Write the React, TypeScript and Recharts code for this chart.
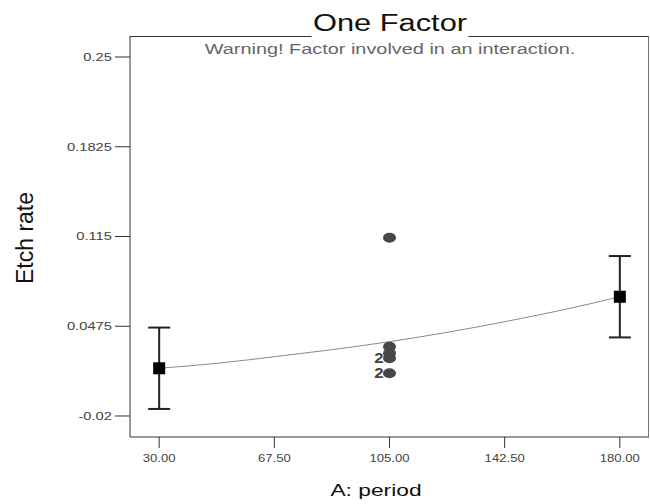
import React from "react";
import {
  ComposedChart,
  Scatter,
  Line,
  XAxis,
  YAxis,
  ErrorBar,
} from "recharts";

// factor levels and the fitted one-factor curve
const curveX = [30, 48.75, 67.5, 86.25, 105, 123.75, 142.5, 161.25, 180];
const curveY = [0.0159, 0.0196, 0.0246, 0.0299, 0.0359, 0.0429, 0.0509, 0.0597, 0.0697];

// predicted means at the ends, with their LSD bars
const meanX = [30, 180];
const meanY = [0.0159, 0.0697];
const meanErr = [0.0306, 0.0306];

// design points at the centre (n = stacked replicates)
const pointX = [105, 105, 105, 105, 105];
const pointY = [0.114, 0.0321, 0.0271, 0.0234, 0.0121];
const pointN = [1, 1, 1, 2, 2];

const xTicks = [30, 67.5, 105, 142.5, 180];
const yTicks = [-0.02, 0.0475, 0.115, 0.1825, 0.25];

const curve = curveX.map((x, i) => ({ x, y: curveY[i] }));
const means = meanX.map((x, i) => ({ x, y: meanY[i], err: meanErr[i] }));
const points = pointX.map((x, i) => ({ x, y: pointY[i], n: pointN[i] }));

const FONT = "'Liberation Sans', Arial, sans-serif";
const STRETCH = 1.34;

const YTick = ({ x, y, payload }: any) => (
  <text
    transform={`translate(${x},${y}) scale(${STRETCH},1)`}
    textAnchor="end"
    dy="0.35em"
    fontSize={11}
    fontFamily={FONT}
    fill="#444"
  >
    {payload.value}
  </text>
);

const XTick = ({ x, y, payload }: any) => (
  <text
    transform={`translate(${x},${y}) scale(1.25,1)`}
    textAnchor="middle"
    dy="0.75em"
    fontSize={10.5}
    fontFamily={FONT}
    fill="#444"
  >
    {Number(payload.value).toFixed(2)}
  </text>
);

const MeanShape = (p: any) => (
  <rect x={p.cx - 6} y={p.cy - 6} width={12} height={12} fill="#000" />
);

const PointShape = (p: any) => (
  <g>
    <ellipse cx={p.cx} cy={p.cy} rx={6.5} ry={5} fill="#474747" />
    {p.payload.n > 1 && (
      <text
        transform={`translate(${p.cx - 6},${p.cy}) scale(1.2,1)`}
        dy="0.36em"
        textAnchor="end"
        fontSize={14}
        fontWeight="bold"
        fontFamily={FONT}
        fill="#444"
      >
        {p.payload.n}
      </text>
    )}
  </g>
);

const label = (extra: React.CSSProperties): React.CSSProperties => ({
  position: "absolute",
  fontFamily: FONT,
  whiteSpace: "nowrap",
  lineHeight: 1,
  ...extra,
});

export default function App() {
  return (
    <div style={{ position: "absolute", left: 0, top: 0, width: 650, height: 504, background: "#fff" }}>
      <ComposedChart
        width={650}
        height={504}
        margin={{ top: 36, right: 1, bottom: 27, left: 70 }}
      >
        <XAxis
          type="number"
          dataKey="x"
          domain={[20.5, 189.5]}
          ticks={xTicks}
          tickSize={11}
          tickMargin={6}
          height={40}
          stroke="#333"
          tick={<XTick />}
          allowDuplicatedCategory={false}
        />
        <YAxis
          type="number"
          dataKey="y"
          domain={[-0.0358, 0.2658]}
          ticks={yTicks}
          tickSize={15}
          tickMargin={3}
          width={60}
          stroke="#333"
          tick={<YTick />}
        />
        <Line
          data={curve}
          dataKey="y"
          type="monotone"
          stroke="#8a8a8a"
          strokeWidth={1}
          dot={false}
          activeDot={false}
          isAnimationActive={false}
        />
        <Scatter data={points} shape={<PointShape />} isAnimationActive={false} />
        <Scatter data={means} shape={<MeanShape />} isAnimationActive={false}>
          <ErrorBar dataKey="err" direction="y" width={11} stroke="#222" strokeWidth={2} />
        </Scatter>
      </ComposedChart>

      {/* top and right edges of the plot frame */}
      <div
        style={{
          position: "absolute",
          left: 130,
          top: 36,
          width: 519,
          height: 401,
          borderTop: "1px solid #333",
          borderRight: "1px solid #777",
          boxSizing: "border-box",
          pointerEvents: "none",
        }}
      />

      <div
        style={label({
          left: 390,
          top: 11,
          fontSize: 23,
          color: "#111",
          background: "#fff",
          padding: "1px 1px 4px",
          transform: `translateX(-50%) scaleX(${STRETCH})`,
        })}
      >
        One Factor
      </div>
      <div
        style={label({
          left: 390,
          top: 42,
          fontSize: 14,
          color: "#666",
          transform: "translateX(-50%) scaleX(1.42)",
        })}
      >
        Warning! Factor involved in an interaction.
      </div>
      <div
        style={label({
          left: 376,
          top: 482,
          fontSize: 17,
          color: "#111",
          transform: `translateX(-50%) scaleX(${STRETCH})`,
        })}
      >
        A: period
      </div>
      <div
        style={label({
          left: 25,
          top: 238,
          fontSize: 23,
          color: "#111",
          transform: "translate(-50%, -50%) rotate(-90deg)",
        })}
      >
        Etch rate
      </div>
    </div>
  );
}
